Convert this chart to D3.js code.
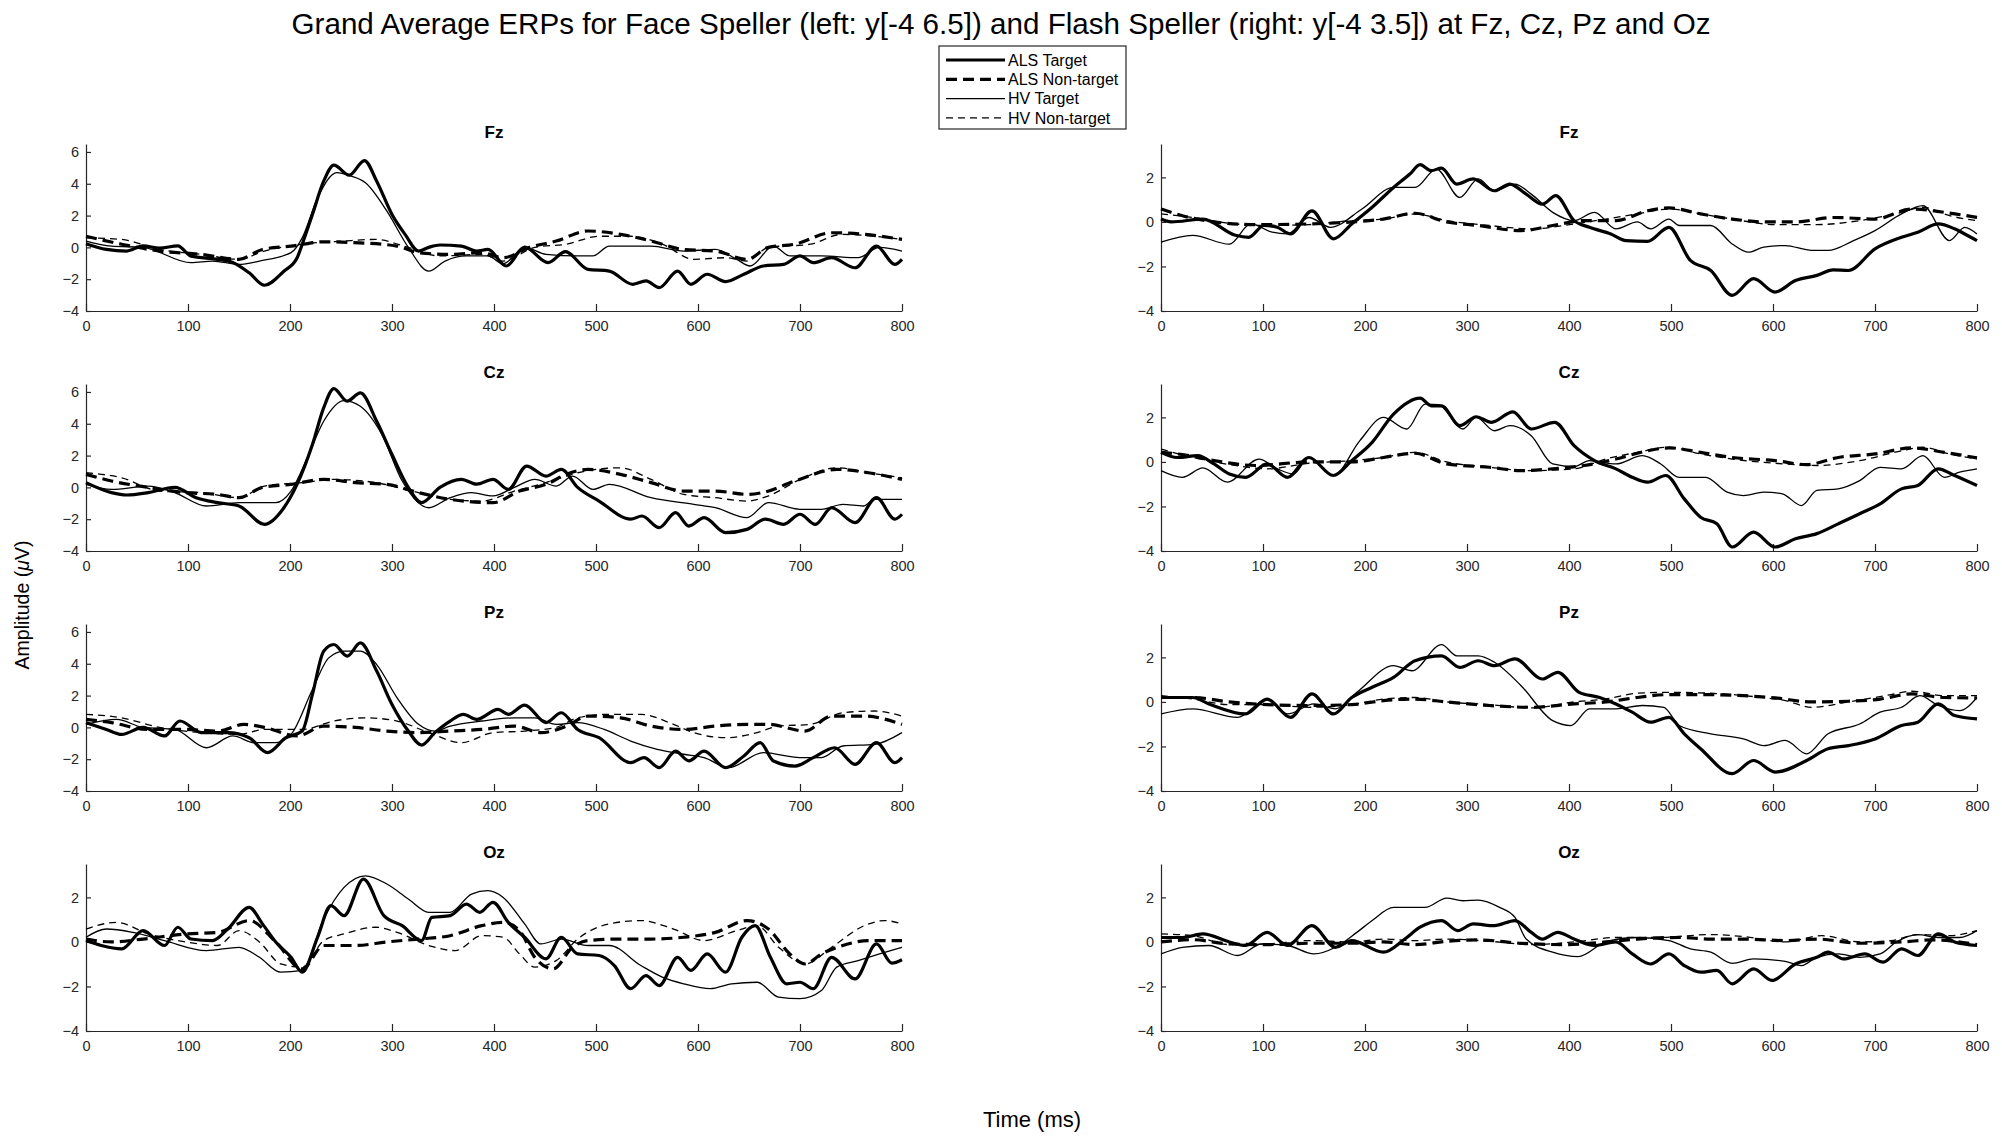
<!DOCTYPE html>
<html>
<head>
<meta charset="utf-8">
<script src="https://cdn.jsdelivr.net/npm/d3@7"></script>
<style>
  html, body { margin: 0; padding: 0; background: #fff; }
  svg text { font-family: "Liberation Sans", Arial, Helvetica, sans-serif; fill: #000; }
  .tick text { fill: #262626; }
  .domain, .tick line { stroke: #262626; }
</style>
</head>
<body>
<svg id="chart" width="2002" height="1139"></svg>
<script>
// ============================================================
//  DATA — [time (ms), amplitude (µV)]
// ============================================================

const ELECTRODES = ["Fz", "Cz", "Pz", "Oz"];
const SERIES_NAMES = ["ALS Target", "ALS Non-target", "HV Target", "HV Non-target"];
const X_TICKS = [0, 100, 200, 300, 400, 500, 600, 700, 800];
const Y_TICKS_FACE = [-4, -2, 0, 2, 4, 6];
const Y_TICKS_FLASH = [-4, -2, 0, 2];
const TITLE = "Grand Average ERPs for Face Speller (left: y[-4 6.5]) and Flash Speller (right: y[-4 3.5]) at Fz, Cz, Pz and Oz";

// ---- Face speller (left column) ----
const faceFzAlsT = [[0,0.23],[20,-0.13],[40,-0.23],[56,0.1],[72,-0.05],[90,0.1],[103,-0.55],[129,-0.75],[144,-0.95],[160,-1.6],[175,-2.38],[194,-1.5],[207,-0.65],[212,0.2],[222,2.07],[233,4.16],[243,5.17],[258,4.54],[273,5.46],[285,4.16],[300,2.07],[313,0.8],[326,-0.23],[336,0],[347,0.15],[368,0.08],[383,-0.23],[394,-0.13],[412,-1.17],[430,0.02],[453,-0.96],[470,-0.27],[492,-1.38],[513,-1.49],[536,-2.32],[549,-2.11],[562,-2.53],[580,-1.49],[593,-2.32],[609,-1.69],[627,-2.15],[645,-1.69],[664,-1.17],[684,-1.07],[700,-0.54],[713,-0.96],[731,-0.65],[754,-1.28],[775,0.08],[793,-1.07],[800,-0.75]];
const faceFzAlsN = [[0,0.7],[35,0.2],[72,-0.23],[113,-0.44],[150,-0.75],[173,-0.13],[201,0.08],[233,0.35],[263,0.3],[305,0.08],[326,-0.33],[357,-0.44],[388,-0.33],[409,-0.65],[435,0],[461,0.4],[492,1.03],[524,0.82],[554,0.4],[586,-0.13],[617,-0.23],[648,-0.75],[669,0],[695,0.2],[731,0.92],[763,0.82],[800,0.5]];
const faceFzHvT = [[0,0.4],[25,0.08],[56,0],[103,-0.96],[124,-0.86],[150,-1.07],[170,-0.86],[201,-0.33],[212,0.6],[227,3.1],[246,4.7],[259,4.5],[274,4.06],[295,2.28],[316,0],[336,-1.49],[352,-0.86],[373,-0.54],[394,-0.54],[409,-1.03],[430,0],[451,-0.44],[482,-0.54],[497,-0.54],[513,0.08],[554,0.08],[586,-0.23],[617,-0.13],[638,-0.75],[651,-1.17],[674,0.08],[690,-0.54],[721,-0.54],[757,-0.65],[778,0],[800,-0.23]];
const faceFzHvN = [[0,0.6],[35,0.5],[72,-0.13],[113,-0.44],[150,-0.75],[175,-0.23],[212,0.2],[253,0.4],[284,0.5],[316,0],[347,-0.54],[388,-0.44],[409,-0.86],[440,0],[471,0.2],[503,0.7],[534,0.7],[565,0.2],[596,-0.75],[627,-0.65],[648,-0.86],[669,0],[710,0.2],[741,0.82],[773,0.7],[800,0.5]];

const faceCzAlsT = [[0,0.3],[25,-0.33],[40,-0.48],[61,-0.33],[87,0],[108,-0.65],[129,-0.96],[150,-1.17],[175,-2.32],[194,-1.28],[207,0.2],[222,2.7],[233,5.0],[243,6.21],[256,5.42],[269,5.94],[285,4.16],[300,2.07],[316,0],[329,-0.96],[347,0],[368,0.5],[383,0.2],[399,0.5],[414,-0.13],[432,1.34],[451,0.71],[466,1.13],[482,0],[503,-0.86],[534,-2.0],[545,-1.8],[562,-2.53],[578,-1.59],[591,-2.43],[606,-1.9],[627,-2.85],[648,-2.64],[666,-2.0],[684,-2.32],[700,-1.69],[715,-2.32],[731,-1.28],[754,-2.22],[775,-0.65],[793,-2.0],[800,-1.69]];
const faceCzAlsN = [[0,0.82],[25,0.4],[61,0],[98,-0.33],[129,-0.44],[150,-0.65],[173,0],[201,0.19],[233,0.5],[264,0.3],[295,0.19],[326,-0.33],[357,-0.75],[399,-0.96],[425,-0.23],[451,0.19],[471,0.82],[492,1.13],[524,0.82],[554,0.3],[586,-0.23],[617,-0.23],[648,-0.44],[663,-0.33],[695,0.4],[736,1.13],[767,0.92],[800,0.5]];
const faceCzHvT = [[0,0.19],[25,-0.13],[61,0.08],[87,-0.33],[118,-1.17],[150,-0.96],[186,-0.96],[201,-0.23],[217,1.86],[233,4.16],[253,5.46],[269,5.1],[290,3.33],[310,0.4],[336,-1.28],[357,-0.65],[378,-0.33],[399,-0.54],[420,0],[440,0.5],[461,0.08],[477,0.71],[497,-0.13],[513,0.19],[554,-0.65],[596,-1.07],[617,-1.28],[648,-1.9],[669,-0.96],[700,-1.38],[721,-1.38],[742,-1.07],[762,-1.17],[773,-0.75],[800,-0.75]];
const faceCzHvN = [[0,0.92],[35,0.6],[72,-0.23],[113,-0.33],[150,-0.65],[175,0.08],[212,0.3],[243,0.5],[284,0.3],[326,-0.33],[357,-0.75],[388,-0.86],[420,-0.23],[451,0.3],[482,0.92],[524,1.23],[554,0.5],[586,-0.44],[617,-0.65],[648,-0.86],[669,-0.54],[700,0.5],[736,1.23],[767,0.92],[800,0.6]];

const facePzAlsT = [[0,0.3],[20,-0.13],[35,-0.44],[56,0],[77,-0.54],[92,0.4],[113,-0.33],[139,-0.33],[160,-0.65],[178,-1.59],[196,-0.65],[212,-0.23],[222,2.07],[233,4.79],[243,5.21],[256,4.48],[269,5.31],[285,3.54],[300,1.44],[316,-0.23],[329,-1.11],[342,-0.33],[357,0.4],[370,0.82],[383,0.5],[404,1.13],[414,0.82],[430,1.4],[451,0.3],[466,0.92],[482,-0.13],[503,-0.65],[534,-2.22],[547,-1.9],[562,-2.53],[578,-1.49],[591,-2.11],[606,-1.49],[627,-2.53],[645,-1.8],[661,-0.96],[674,-2.11],[695,-2.43],[713,-1.9],[734,-1.28],[754,-2.32],[775,-0.96],[793,-2.22],[800,-1.9]];
const facePzAlsN = [[0,0.5],[25,0.3],[61,-0.13],[98,-0.13],[129,-0.23],[155,0.19],[175,0],[207,-0.54],[233,0.08],[264,0],[295,-0.23],[326,-0.33],[357,-0.23],[388,-0.13],[420,0.08],[446,-0.33],[471,0.08],[492,0.71],[524,0.6],[554,0.08],[586,-0.13],[617,0.08],[648,0.19],[669,0.19],[705,-0.23],[731,0.71],[763,0.71],[800,0.19]];
const facePzHvT = [[0,0.19],[30,0.5],[56,0],[87,-0.13],[118,-1.28],[144,-0.54],[165,-0.96],[186,-0.96],[201,-0.44],[222,2.38],[238,4.37],[253,4.79],[269,4.79],[285,3.95],[305,1.86],[326,0.19],[342,-0.23],[357,0.08],[388,0.4],[420,0.6],[440,0.6],[461,0.19],[482,0.3],[508,-0.13],[534,-0.86],[560,-1.38],[586,-1.69],[606,-1.9],[630,-2.53],[664,-1.59],[700,-1.9],[721,-1.9],[742,-1.17],[773,-1.07],[800,-0.33]];
const facePzHvN = [[0,0.82],[35,0.6],[72,0],[113,-0.33],[150,-0.44],[175,-0.13],[212,-0.13],[243,0.4],[274,0.6],[305,0.4],[336,-0.33],[368,-0.96],[399,-0.33],[430,-0.23],[461,0],[482,0.6],[513,0.82],[544,0.82],[576,0.19],[596,-0.33],[627,-0.65],[658,-0.33],[679,0.08],[710,0.19],[742,0.92],[773,1.03],[800,0.71]];

const faceOzAlsT = [[0,0.06],[15,-0.16],[35,-0.31],[56,0.51],[77,-0.16],[90,0.66],[103,0.13],[124,0.06],[139,0.58],[160,1.55],[173,0.81],[186,0],[201,-0.69],[212,-1.36],[227,0.21],[240,1.63],[253,1.18],[272,2.82],[292,1.18],[310,0.73],[329,0.06],[339,1.1],[357,1.18],[373,1.7],[386,1.33],[399,1.78],[414,0.88],[430,0.21],[451,-0.76],[466,0.21],[482,-0.54],[503,-0.61],[518,-1.06],[534,-2.1],[549,-1.51],[562,-1.96],[580,-0.69],[593,-1.28],[609,-0.54],[627,-1.36],[643,0.21],[656,0.73],[671,-0.69],[687,-1.88],[700,-1.81],[713,-2.1],[731,-0.69],[754,-1.66],[775,-0.09],[790,-0.95],[800,-0.8]];
const faceOzAlsN = [[0,0.13],[25,0],[56,0.13],[98,0.36],[129,0.43],[160,0.96],[186,0],[212,-1.21],[233,-0.16],[264,-0.16],[295,0],[326,0.13],[357,0.28],[388,0.73],[409,0.88],[425,0.51],[440,-0.69],[458,-1.21],[477,-0.24],[492,0.06],[523,0.13],[554,0.13],[586,0.21],[617,0.43],[648,0.96],[669,0.58],[690,-0.54],[705,-0.99],[721,-0.54],[742,-0.16],[767,0.06],[800,0.06]];
const faceOzHvT = [[0,0.21],[20,0.58],[46,0.43],[77,0.06],[118,-0.39],[150,-0.24],[170,-0.69],[191,-1.36],[212,-1.28],[233,1.03],[253,2.45],[274,2.97],[295,2.6],[316,1.93],[336,1.33],[357,1.33],[378,2.15],[394,2.3],[409,2.0],[430,0.81],[446,-0.09],[466,0.13],[492,-0.16],[513,-0.16],[544,-1.06],[565,-1.58],[586,-1.88],[612,-2.1],[633,-1.88],[658,-1.81],[679,-2.48],[700,-2.55],[721,-2.18],[736,-1.13],[757,-0.84],[778,-0.54],[800,-0.24]];
const faceOzHvN = [[0,0.58],[30,0.88],[61,0.36],[98,0],[129,-0.16],[150,0.51],[170,0],[191,-0.99],[212,-1.13],[233,0.06],[253,0.36],[284,0.66],[305,0.43],[336,-0.16],[362,-0.39],[388,0.28],[409,0.21],[425,-0.54],[440,-1.13],[461,-0.84],[482,0.13],[513,0.81],[544,0.96],[576,0.58],[606,0.06],[638,0.51],[658,0.73],[679,-0.24],[705,-0.99],[731,-0.24],[763,0.73],[783,0.96],[800,0.81]];

// ---- Flash speller (right column) ----
const flashFzAlsT = [[0,0.13],[10,0],[41,0.13],[73,-0.6],[86,-0.69],[101,-0.16],[114,-0.24],[127,-0.54],[148,0.5],[169,-0.76],[187,-0.09],[207,0.66],[228,1.55],[244,2.15],[254,2.57],[265,2.3],[275,2.42],[290,1.7],[306,1.93],[327,1.4],[342,1.7],[358,1.25],[374,0.8],[387,1.18],[405,0.06],[420,-0.24],[441,-0.54],[456,-0.84],[477,-0.87],[498,-0.24],[519,-1.73],[539,-2.18],[560,-3.3],[581,-2.55],[602,-3.15],[622,-2.63],[643,-2.4],[659,-2.15],[674,-2.18],[700,-1.21],[726,-0.69],[742,-0.46],[762,-0.09],[778,-0.31],[788,-0.54],[800,-0.84]];
const flashFzAlsN = [[0,0.58],[21,0.28],[52,0],[93,-0.12],[145,-0.09],[187,0],[218,0.13],[249,0.39],[280,0],[311,-0.16],[353,-0.39],[384,-0.16],[415,0.06],[446,0.06],[477,0.5],[498,0.63],[529,0.36],[560,0.13],[591,0],[622,0],[659,0.2],[700,0.13],[736,0.58],[768,0.43],[800,0.2]];
const flashFzHvT = [[0,-0.91],[31,-0.6],[67,-1.0],[88,-0.09],[109,-0.46],[124,-0.54],[145,0.2],[166,-0.24],[197,0.58],[228,1.55],[249,1.55],[270,2.37],[293,1.1],[311,1.93],[327,1.4],[347,1.7],[363,1.25],[384,0.43],[405,0.06],[425,0.43],[446,-0.31],[467,0],[480,-0.31],[498,0.13],[508,-0.16],[539,-0.16],[560,-0.99],[576,-1.36],[591,-1.13],[612,-1.06],[638,-1.28],[654,-1.28],[679,-0.84],[700,-0.39],[726,0.36],[747,0.73],[773,-0.84],[788,-0.24],[800,-0.54]];
const flashFzHvN = [[0,0.36],[31,0.2],[67,-0.06],[104,-0.16],[145,-0.12],[187,0.06],[218,0.13],[249,0.36],[280,0.06],[322,-0.16],[363,-0.31],[405,-0.09],[436,0.13],[467,0.36],[498,0.58],[529,0.36],[560,0.13],[602,-0.12],[643,-0.12],[685,0.06],[726,0.43],[747,0.66],[773,0.28],[800,0.06]];

const flashCzAlsT = [[0,0.43],[16,0.2],[36,0.28],[52,-0.09],[67,-0.54],[83,-0.69],[104,-0.09],[124,-0.69],[145,0.2],[169,-0.61],[187,0.06],[207,0.88],[228,2.15],[254,2.87],[265,2.52],[275,2.52],[293,1.63],[309,2.03],[324,1.78],[345,2.25],[363,1.48],[386,1.78],[405,0.73],[425,0.06],[446,-0.31],[462,-0.69],[477,-0.91],[495,-0.61],[513,-1.66],[529,-2.48],[545,-2.78],[560,-3.82],[581,-3.15],[602,-3.82],[622,-3.45],[643,-3.22],[664,-2.78],[685,-2.33],[705,-1.88],[726,-1.21],[742,-1.06],[762,-0.31],[778,-0.61],[800,-1.06]];
const flashCzAlsN = [[0,0.43],[21,0.33],[52,0.06],[93,-0.16],[145,0],[187,0],[218,0.2],[249,0.39],[280,-0.09],[322,-0.24],[353,-0.39],[384,-0.31],[415,-0.16],[446,0.13],[477,0.5],[498,0.63],[529,0.43],[560,0.2],[602,0.06],[633,-0.12],[664,0.2],[700,0.36],[736,0.63],[768,0.43],[800,0.18]];
const flashCzHvT = [[0,-0.39],[21,-0.69],[41,-0.27],[65,-0.91],[96,0.13],[114,-0.31],[130,-0.54],[145,0.2],[169,-0.61],[195,0.96],[218,2.0],[241,1.48],[259,2.6],[272,2.57],[296,1.48],[309,2.0],[327,1.4],[342,1.63],[363,1.18],[384,-0.09],[405,-0.21],[420,0.06],[446,-0.09],[472,0.28],[490,-0.09],[508,-0.69],[534,-0.69],[555,-1.36],[571,-1.51],[591,-1.36],[609,-1.43],[628,-1.96],[643,-1.28],[664,-1.21],[685,-0.84],[705,-0.24],[726,-0.31],[747,0.28],[768,-0.69],[783,-0.46],[800,-0.31]];
const flashCzHvN = [[0,0.58],[31,0.2],[67,-0.12],[104,-0.31],[145,-0.06],[187,0.06],[218,0.2],[249,0.43],[280,0],[322,-0.24],[363,-0.39],[405,-0.31],[436,0.13],[467,0.43],[498,0.66],[529,0.36],[560,0.13],[602,-0.06],[643,-0.16],[685,0.06],[726,0.5],[747,0.66],[773,0.36],[800,0.13]];

const flashPzAlsT = [[0,0.2],[31,0.2],[47,-0.09],[83,-0.54],[104,0.13],[127,-0.69],[148,0.36],[169,-0.54],[187,0.2],[207,0.66],[228,1.1],[249,1.85],[275,2.07],[293,1.55],[311,1.85],[327,1.63],[347,1.93],[374,1.03],[389,1.33],[410,0.43],[430,0.2],[446,-0.09],[462,-0.46],[480,-0.91],[498,-0.69],[513,-1.43],[529,-2.1],[560,-3.22],[581,-2.63],[602,-3.15],[633,-2.63],[654,-2.1],[674,-1.96],[700,-1.66],[726,-1.06],[742,-0.91],[762,-0.09],[778,-0.61],[800,-0.76]];
const flashPzAlsN = [[0,0.2],[31,0.2],[67,0],[104,-0.12],[145,-0.16],[187,-0.12],[218,0.06],[249,0.13],[280,0],[322,-0.16],[363,-0.24],[405,-0.09],[436,0],[467,0.2],[498,0.33],[534,0.33],[571,0.28],[602,0.18],[638,0],[674,0.03],[705,0.13],[736,0.36],[768,0.2],[800,0.18]];
const flashPzHvT = [[0,-0.54],[31,-0.31],[75,-0.69],[104,0.13],[124,-0.54],[150,-0.09],[171,-0.31],[192,0.43],[228,1.63],[246,1.4],[275,2.57],[290,2.07],[311,2.07],[327,1.78],[353,0.73],[384,-0.84],[402,-1.06],[420,-0.31],[446,-0.31],[472,-0.16],[493,-0.24],[508,-1.06],[539,-1.43],[571,-1.66],[591,-1.96],[612,-1.73],[633,-2.33],[654,-1.43],[685,-0.99],[705,-0.46],[726,-0.24],[744,0.28],[762,-0.16],[783,-0.39],[800,0.2]];
const flashPzHvN = [[0,0.28],[31,0.13],[67,-0.12],[104,-0.12],[145,-0.24],[187,-0.12],[218,0.13],[249,0.2],[280,0],[322,-0.12],[363,-0.27],[405,0],[436,0.13],[467,0.39],[498,0.43],[539,0.39],[581,0.24],[612,0.06],[638,-0.24],[674,0],[716,0.33],[736,0.48],[768,0.28],[800,0.28]];

const flashOzAlsT = [[0,0.2],[21,0.2],[41,0.36],[67,0],[83,-0.16],[104,0.43],[124,-0.16],[148,0.73],[171,-0.24],[187,0.06],[218,-0.46],[239,0.13],[254,0.66],[275,0.96],[291,0.51],[306,0.81],[327,0.73],[347,0.96],[363,0.43],[374,0.13],[389,0.43],[405,0.13],[425,-0.16],[446,0],[462,-0.54],[480,-0.99],[498,-0.54],[513,-1.06],[529,-1.36],[545,-1.28],[560,-1.88],[581,-1.21],[599,-1.73],[622,-0.99],[643,-0.69],[654,-0.46],[669,-0.76],[690,-0.54],[708,-0.91],[726,-0.31],[742,-0.61],[762,0.36],[778,0],[800,-0.16]];
const flashOzAlsN = [[0,0],[31,0.1],[67,-0.09],[104,-0.12],[145,-0.06],[187,-0.06],[218,0],[249,-0.12],[280,0.03],[311,0.09],[353,-0.06],[394,-0.12],[436,0],[467,0.13],[508,0.2],[539,0.13],[571,0.13],[612,0.06],[643,0.13],[685,-0.06],[726,0],[757,0.09],[800,-0.12]];
const flashOzHvT = [[0,-0.54],[21,-0.24],[47,-0.16],[75,-0.61],[99,-0.09],[124,-0.16],[150,-0.54],[171,-0.24],[192,0.43],[207,0.96],[228,1.55],[259,1.55],[280,1.97],[296,1.85],[311,1.88],[332,1.55],[347,1.1],[358,0.13],[384,-0.46],[409,-0.66],[436,0],[467,0.2],[498,0.06],[519,-0.31],[539,-0.46],[560,-0.96],[581,-0.76],[612,-0.87],[628,-1.06],[643,-0.69],[664,-0.54],[685,-0.69],[705,-0.54],[721,0],[742,0.33],[762,0.2],[783,0.2],[800,0.51]];
const flashOzHvN = [[0,0.36],[31,0.28],[67,-0.12],[104,-0.09],[145,0.06],[187,0],[218,0.13],[249,0.06],[280,0.13],[322,0.03],[363,-0.12],[405,0],[446,0.2],[487,0.2],[539,0.33],[571,0.24],[612,0],[648,0.28],[685,0],[716,0.06],[742,0.33],[773,0.28],[800,0.51]];

// ============================================================
//  CONFIGURATION
// ============================================================

const CONFIG = {
    FONT: '"Liberation Sans", Arial, Helvetica, sans-serif',

    // -- Grid of axes (pixels) -------------------------------
    COL_X: [86, 1161],
    AXIS_W: 816,
    ROW_TOP: 144,
    ROW_STEP: 240,
    AXIS_H: 167,

    // -- Axes -----------------------------------------------
    TICK_LEN_X: 7,
    TICK_LEN_Y: 5,
    TICK_FONT: "14.5px",
    PANEL_TITLE_FONT: "17px",

    // -- Figure texts ----------------------------------------
    TITLE_FONT: "29.6px",
    X_LABEL_FONT: "22px",
    Y_LABEL_FONT: "19.5px",

    // -- Line styles, in SERIES_NAMES order ------------------
    STYLES: [
        { width: 3.2, dash: null },
        { width: 3.2, dash: "11,6" },
        { width: 1.3, dash: null },
        { width: 1.3, dash: "7,5" },
    ],

    // -- Legend ---------------------------------------------
    LEGEND: { X: 939, Y: 46, W: 187, H: 83, ROW0: 14, ROW_STEP: 19.3, LINE_X0: 7, LINE_X1: 66, TEXT_X: 69, FONT: "16px" },
};

// Column / row assembly (row order = ELECTRODES)
const FACE = [
    [faceFzAlsT, faceFzAlsN, faceFzHvT, faceFzHvN],
    [faceCzAlsT, faceCzAlsN, faceCzHvT, faceCzHvN],
    [facePzAlsT, facePzAlsN, facePzHvT, facePzHvN],
    [faceOzAlsT, faceOzAlsN, faceOzHvT, faceOzHvN],
];
const FLASH = [
    [flashFzAlsT, flashFzAlsN, flashFzHvT, flashFzHvN],
    [flashCzAlsT, flashCzAlsN, flashCzHvT, flashCzHvN],
    [flashPzAlsT, flashPzAlsN, flashPzHvT, flashPzHvN],
    [flashOzAlsT, flashOzAlsN, flashOzHvT, flashOzHvN],
];

const svg = d3.select("#chart");


function styleLine(sel, style) {
    sel.attr("fill", "none")
        .attr("stroke", "#000")
        .attr("stroke-width", style.width)
        .attr("stroke-linejoin", "round")
        .attr("stroke-dasharray", style.dash);
}


// ============================================================
//  ONE PANEL
// ============================================================

function drawPanel(col, row, seriesList, yDomain, yTicks) {
    const left = CONFIG.COL_X[col];
    const top = CONFIG.ROW_TOP + row * CONFIG.ROW_STEP;

    const g = svg.append("g").attr("transform", `translate(${left}, ${top})`);

    const x = d3.scaleLinear().domain([0, 800]).range([0, CONFIG.AXIS_W]);
    const y = d3.scaleLinear().domain(yDomain).range([CONFIG.AXIS_H, 0]);

    // --- Axes (MATLAB style: ticks point inward, no box) ---
    const xAxis = g.append("g")
        .attr("transform", `translate(0, ${CONFIG.AXIS_H})`)
        .call(d3.axisBottom(x).tickValues(X_TICKS).tickFormat(d3.format("d"))
            .tickSizeInner(-CONFIG.TICK_LEN_X).tickSizeOuter(0).tickPadding(10));

    const yAxis = g.append("g")
        .call(d3.axisLeft(y).tickValues(yTicks).tickFormat(d3.format("d"))
            .tickSizeInner(-CONFIG.TICK_LEN_Y).tickSizeOuter(0).tickPadding(7));

    [xAxis, yAxis].forEach(a => {
        a.selectAll("text").style("font-size", CONFIG.TICK_FONT).style("font-family", CONFIG.FONT);
        a.select(".domain").attr("stroke-width", 1.2);
        a.selectAll(".tick line").attr("stroke-width", 1.2);
    });

    // --- Traces ---
    const line = d3.line()
        .x(d => x(d[0]))
        .y(d => y(d[1]))
        .curve(d3.curveMonotoneX);

    seriesList.forEach((data, i) => {
        g.append("path")
            .datum(data)
            .attr("d", line)
            .call(styleLine, CONFIG.STYLES[i]);
    });

    // --- Title ---
    g.append("text")
        .attr("x", CONFIG.AXIS_W / 2)
        .attr("y", -6)
        .attr("text-anchor", "middle")
        .style("font-size", CONFIG.PANEL_TITLE_FONT)
        .style("font-weight", "bold")
        .text(ELECTRODES[row]);
}


// ============================================================
//  LEGEND
// ============================================================

function drawLegend() {
    const L = CONFIG.LEGEND;
    const g = svg.append("g").attr("transform", `translate(${L.X}, ${L.Y})`);

    g.append("rect")
        .attr("width", L.W)
        .attr("height", L.H)
        .attr("fill", "#fff")
        .attr("stroke", "#262626")
        .attr("stroke-width", 1.2);

    SERIES_NAMES.forEach((name, i) => {
        const cy = L.ROW0 + i * L.ROW_STEP;
        g.append("line")
            .attr("x1", L.LINE_X0).attr("x2", L.LINE_X1)
            .attr("y1", cy).attr("y2", cy)
            .call(styleLine, CONFIG.STYLES[i]);
        g.append("text")
            .attr("x", L.TEXT_X)
            .attr("y", cy)
            .attr("dy", "0.35em")
            .style("font-size", L.FONT)
            .text(name);
    });
}


// ============================================================
//  RENDER
// ============================================================

ELECTRODES.forEach((el, row) => {
    // The Face speller Oz panel shares the Flash range
    const faceDomain = row === 3 ? [-4, 3.5] : [-4, 6.5];
    const faceTicks = row === 3 ? Y_TICKS_FLASH : Y_TICKS_FACE;
    drawPanel(0, row, FACE[row], faceDomain, faceTicks);
    drawPanel(1, row, FLASH[row], [-4, 3.5], Y_TICKS_FLASH);
});

drawLegend();

// --- Figure texts ---
svg.append("text")
    .attr("x", 1001)
    .attr("y", 34)
    .attr("text-anchor", "middle")
    .style("font-size", CONFIG.TITLE_FONT)
    .text(TITLE);

svg.append("text")
    .attr("x", 1032)
    .attr("y", 1127)
    .attr("text-anchor", "middle")
    .style("font-size", CONFIG.X_LABEL_FONT)
    .text("Time (ms)");

const yLabel = svg.append("text")
    .attr("transform", "translate(29, 605) rotate(-90)")
    .attr("text-anchor", "middle")
    .style("font-size", CONFIG.Y_LABEL_FONT);
yLabel.append("tspan").text("Amplitude (");
yLabel.append("tspan").style("font-style", "italic").text("\u03bc");
yLabel.append("tspan").text("V)");
</script>
</body>
</html>
